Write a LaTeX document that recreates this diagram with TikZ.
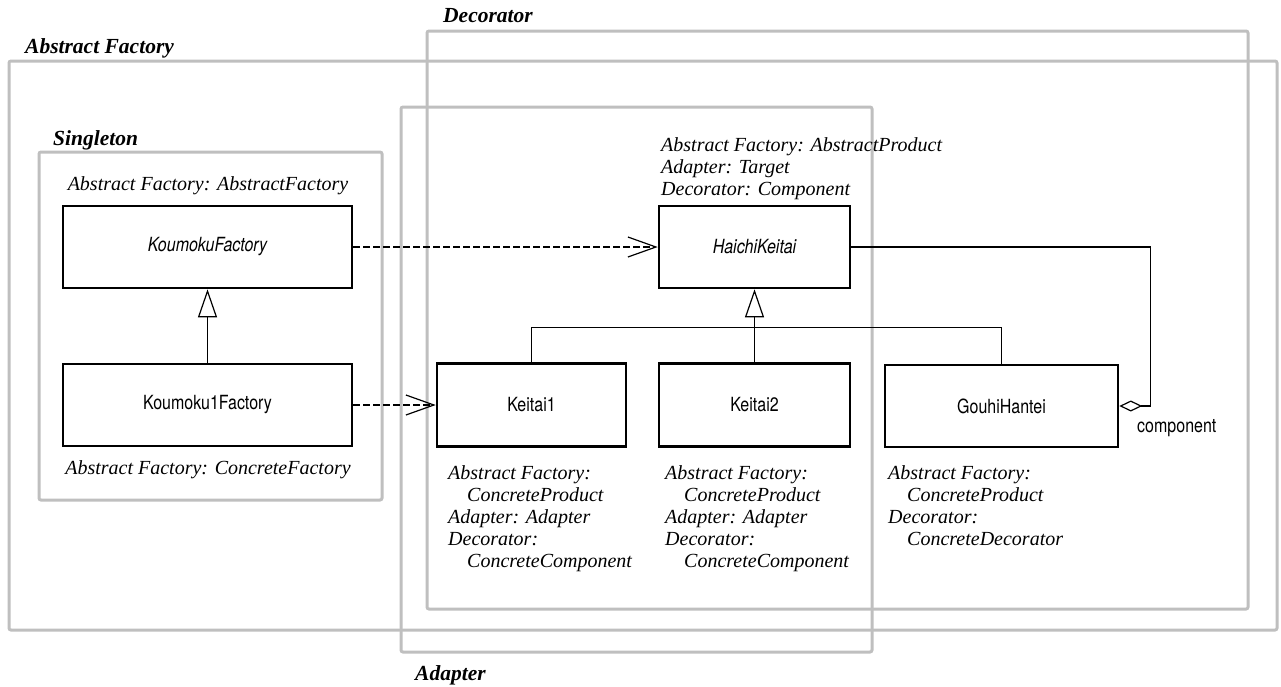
\documentclass[tikz,border=0pt]{standalone}
\usepackage{fontspec}
\usetikzlibrary{arrows.meta}
% narrow Helvetica-like face for class names, serif italic for role notes
\newfontfamily\clsfont[FakeStretch=0.82]{TeX Gyre Heros}
\newfontfamily\serfont{Liberation Serif}
\newcommand\notefont{\serfont\itshape\fontsize{20}{22}\selectfont}
\newcommand\patfont{\serfont\bfseries\itshape\fontsize{21.5}{24}\selectfont}
\newcommand\clsnamefont{\clsfont\fontsize{19.5}{22}\selectfont}
\newcommand\ind{\hspace*{19pt}}

\begin{document}
\begin{tikzpicture}[x=1pt,y=-1pt,
  frame/.style={draw=gray!50, line width=3pt, rounded corners=2pt},
  patlabel/.style={anchor=base west, inner sep=0pt, font=\patfont},
  cls/.style={draw, line width=2.6pt, fill=white, inner sep=0pt, font=\clsnamefont},
  note/.style={inner sep=0pt, font=\notefont, align=left},
  conn/.style={line width=1.2pt},
  depend/.style={conn, dash pattern=on 7pt off 3pt, -{Straight Barb[length=28pt,width=20pt]}},
  inherit/.style={conn, -{Triangle[open,length=28pt,width=19pt,fill=white]}},
  aggr/.style={conn, {Diamond[open,length=23pt,width=11pt,fill=white]}-},
]
\useasboundingbox (0,0) rectangle (1281,686);

% pattern frames
\draw[frame] (9,61) rectangle (1277,630);
\draw[frame] (427,31) rectangle (1248,609);
\draw[frame] (401,107) rectangle (872,652);
\draw[frame] (39,152) rectangle (382,500);

\node[patlabel] (lblAF)  at (25,53)  {Abstract Factory};
\node[patlabel] (lblDec) at (443,22) {Decorator};
\node[patlabel] (lblSgl) at (53,145) {Singleton};
\node[patlabel] (lblAdp) at (415,680) {Adapter};

% classes
\node[cls, minimum width=289pt, minimum height=82pt] (kf)  at (207.5,247) {\itshape KoumokuFactory};
\node[cls, minimum width=289pt, minimum height=82pt] (k1f) at (207.5,405) {Koumoku1Factory};
\node[cls, minimum width=191pt, minimum height=82pt] (hk)  at (754.5,247) {\itshape HaichiKeitai};
\node[cls, minimum width=189pt, minimum height=83pt] (kt1) at (531.5,405) {Keitai1};
\node[cls, minimum width=191pt, minimum height=83pt] (kt2) at (754.5,405) {Keitai2};
\node[cls, minimum width=233pt, minimum height=82pt] (gh)  at (1001.5,406) {GouhiHantei};

% role notes (base anchor sits on the last line)
\node[note, anchor=base] (nkf)  at (208,190) {Abstract Factory: AbstractFactory};
\node[note, anchor=base] (nk1f) at (208,474) {Abstract Factory: ConcreteFactory};
\node[note, anchor=base west] (nhk) at (661,195)
  {Abstract Factory: AbstractProduct\\Adapter: Target\\Decorator: Component};
\node[note, anchor=base west] (nkt1) at (448,567)
  {Abstract Factory:\\\ind ConcreteProduct\\Adapter: Adapter\\Decorator:\\\ind ConcreteComponent};
\node[note, anchor=base west] (nkt2) at (665,567)
  {Abstract Factory:\\\ind ConcreteProduct\\Adapter: Adapter\\Decorator:\\\ind ConcreteComponent};
\node[note, anchor=base west] (ngh) at (888,545)
  {Abstract Factory:\\\ind ConcreteProduct\\Decorator:\\\ind ConcreteDecorator};

% dependencies
\draw[depend] (kf.east) -- (hk.west);
\draw[depend] (k1f.east) -- (kt1.west);

% generalisations
\draw[inherit] (k1f.north) -- (kf.south);
\coordinate (bus) at (754.5,327.5);
\draw[inherit] (kt2.north) -- (hk.south);
\draw[conn] (kt1.north) |- (bus) -| (gh.north);

% aggregation
\coordinate (aggturn) at (1150.5,406);
\draw[aggr] (gh.east) -- (aggturn) |- (hk.east);
\node[anchor=base west, inner sep=0pt, font=\clsnamefont] (role) at (1137,432) {component};
\end{tikzpicture}
\end{document}
